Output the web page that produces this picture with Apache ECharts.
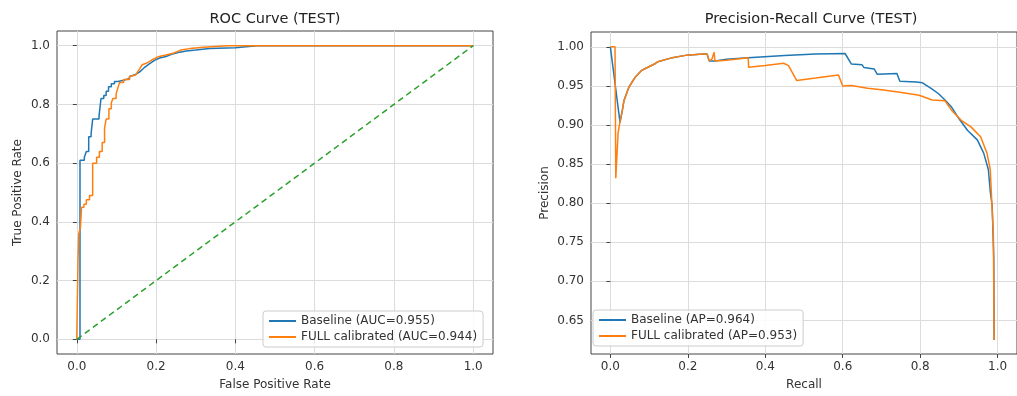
<!DOCTYPE html>
<html>
<head>
<meta charset="utf-8">
<title>ROC / PR (TEST)</title>
<script src="https://cdn.jsdelivr.net/npm/echarts@6/dist/echarts.min.js"></script>
<style>
  html, body { margin: 0; padding: 0; background: #fff; }
  #chart { width: 1017px; height: 396px; }
</style>
</head>
<body>
<div id="chart"></div>
<script>
// ROC curve points (fpr, tpr)
const rocBaseline = [
  [0, 0], [0.008, 0], [0.008, 0.61], [0.019, 0.61], [0.019, 0.62], [0.024, 0.62], [0.024, 0.64],
  [0.030, 0.64], [0.030, 0.69], [0.036, 0.69], [0.036, 0.70], [0.040, 0.70], [0.040, 0.75],
  [0.056, 0.75], [0.056, 0.76], [0.061, 0.76], [0.061, 0.82], [0.068, 0.82], [0.068, 0.83],
  [0.074, 0.83], [0.074, 0.845], [0.080, 0.845], [0.080, 0.86], [0.087, 0.86], [0.087, 0.87],
  [0.095, 0.87], [0.095, 0.878], [0.104, 0.878], [0.104, 0.882], [0.118, 0.882], [0.118, 0.888],
  [0.133, 0.888], [0.133, 0.895], [0.145, 0.9], [0.158, 0.91], [0.170, 0.925], [0.183, 0.938],
  [0.196, 0.95], [0.209, 0.958], [0.225, 0.963], [0.242, 0.972], [0.260, 0.978], [0.276, 0.982],
  [0.300, 0.985], [0.335, 0.99], [0.40, 0.993], [0.455, 1.0], [1.0, 1.0]
];
const rocFull = [
  [0, 0], [0, 0.02], [0.003, 0.02], [0.003, 0.27], [0.005, 0.27], [0.005, 0.36], [0.009, 0.36],
  [0.009, 0.38], [0.012, 0.38], [0.012, 0.45], [0.018, 0.45], [0.018, 0.46], [0.024, 0.46],
  [0.024, 0.475], [0.032, 0.475], [0.032, 0.49], [0.040, 0.49], [0.040, 0.60], [0.050, 0.60],
  [0.050, 0.62], [0.057, 0.62], [0.057, 0.64], [0.064, 0.64], [0.064, 0.67], [0.070, 0.67],
  [0.070, 0.72], [0.074, 0.72], [0.074, 0.75], [0.081, 0.75], [0.081, 0.785], [0.087, 0.785],
  [0.087, 0.805], [0.091, 0.805], [0.091, 0.82], [0.099, 0.82], [0.099, 0.835], [0.104, 0.835],
  [0.104, 0.858], [0.108, 0.858], [0.108, 0.875], [0.118, 0.875], [0.118, 0.885], [0.133, 0.885],
  [0.133, 0.895], [0.148, 0.9], [0.158, 0.92], [0.165, 0.935], [0.175, 0.94], [0.190, 0.952],
  [0.205, 0.962], [0.225, 0.968], [0.245, 0.975], [0.262, 0.985], [0.285, 0.99], [0.32, 0.995],
  [0.38, 1.0], [1.0, 1.0]
];
const rocChance = [[0, 0], [1, 1]];

// Precision-recall points (recall, precision)
const prBaseline = [
  [0, 1.0], [0.025, 0.903], [0.031, 0.919], [0.035, 0.931], [0.0475, 0.948], [0.056, 0.955],
  [0.064, 0.961], [0.081, 0.970], [0.089, 0.972], [0.114, 0.978], [0.1225, 0.981], [0.156, 0.9856],
  [0.1975, 0.9894], [0.239, 0.9907], [0.25, 0.9907], [0.255, 0.982], [0.27, 0.982], [0.30, 0.984],
  [0.356, 0.986], [0.45, 0.989], [0.53, 0.991], [0.606, 0.9915], [0.6225, 0.978], [0.65, 0.977],
  [0.655, 0.9735], [0.681, 0.9717], [0.689, 0.965], [0.74, 0.966], [0.7475, 0.956], [0.79, 0.955],
  [0.806, 0.954], [0.831, 0.946], [0.8475, 0.94], [0.864, 0.932], [0.881, 0.923], [0.8975, 0.910],
  [0.9225, 0.893], [0.9475, 0.881], [0.964, 0.864], [0.976, 0.843], [0.981, 0.815], [0.986, 0.796],
  [0.99, 0.73], [0.991, 0.625]
];
const prFull = [
  [0, 1.0], [0.012, 1.0], [0.014, 0.832], [0.02, 0.89], [0.025, 0.905], [0.031, 0.919], [0.035, 0.931],
  [0.0475, 0.948], [0.056, 0.955], [0.064, 0.961], [0.081, 0.970], [0.089, 0.972], [0.114, 0.978],
  [0.1225, 0.981], [0.156, 0.9856], [0.1975, 0.9894], [0.239, 0.9907], [0.25, 0.9907], [0.255, 0.982],
  [0.262, 0.984], [0.268, 0.993], [0.27, 0.982], [0.30, 0.983], [0.356, 0.986], [0.357, 0.974],
  [0.40, 0.976], [0.4475, 0.979], [0.46, 0.976], [0.481, 0.957], [0.53, 0.96], [0.589, 0.964],
  [0.60, 0.95], [0.6225, 0.9505], [0.664, 0.947], [0.70, 0.945], [0.7475, 0.942], [0.7975, 0.938],
  [0.831, 0.932], [0.864, 0.931], [0.8808, 0.919], [0.906, 0.906], [0.931, 0.8976], [0.956, 0.885],
  [0.9725, 0.864], [0.981, 0.843], [0.985, 0.80], [0.989, 0.758], [0.991, 0.625]
];

const unitTicks = [0, 0.2, 0.4, 0.6, 0.8, 1.0];
const precisionTicks = [0.65, 0.7, 0.75, 0.8, 0.85, 0.9, 0.95, 1.0];

const rocNames = ['Baseline (AUC=0.955)', 'FULL calibrated (AUC=0.944)'];
const prNames = ['Baseline (AP=0.964)', 'FULL calibrated (AP=0.953)'];
const titles = ['ROC Curve (TEST)', 'Precision-Recall Curve (TEST)'];

const FONT = 'DejaVu Sans, sans-serif';
const BLUE = '#1f77b4', ORANGE = '#ff7f0e', GREEN = '#2ca02c';

const chart = echarts.init(document.getElementById('chart'), null, { renderer: 'canvas' });

function axis(gridIndex, min, max, ticks, digits, name, nameGap) {
  return {
    type: 'value',
    gridIndex,
    min, max,
    name,
    nameLocation: 'middle',
    nameGap,
    nameTextStyle: { color: '#333', fontSize: 12, fontFamily: FONT },
    axisLine: { show: false },
    axisTick: { show: true, inside: false, length: 4, customValues: ticks, lineStyle: { color: '#444' } },
    axisLabel: {
      customValues: ticks,
      margin: 7,
      color: '#333', fontSize: 12, fontFamily: FONT,
      formatter: (v) => v.toFixed(digits)
    },
    splitLine: { show: true, lineStyle: { color: '#dcdcdc', width: 1 } }
  };
}

function legend(data, left, top) {
  return {
    data,
    orient: 'vertical',
    left, top,
    icon: 'rect',
    itemWidth: 27, itemHeight: 2,
    itemGap: 4,
    padding: [4, 6, 4, 6],
    backgroundColor: 'rgba(255,255,255,0.85)',
    borderColor: '#cccccc', borderWidth: 1, borderRadius: 3,
    selectedMode: false,
    textStyle: { color: '#333', fontSize: 12, fontFamily: FONT }
  };
}

function line(name, data, color, xi, extra) {
  return Object.assign({
    name, type: 'line', data,
    xAxisIndex: xi, yAxisIndex: xi,
    showSymbol: false, symbol: 'none',
    lineStyle: { color, width: 1.5 },
    itemStyle: { color },
    animation: false
  }, extra || {});
}

chart.setOption({
  animation: false,
  title: [
    { text: titles[0], left: 275, top: 12, textAlign: 'center', padding: 0,
      textStyle: { fontSize: 14.5, fontWeight: 'normal', color: '#222', fontFamily: FONT } },
    { text: titles[1], left: 811, top: 12, textAlign: 'center', padding: 0,
      textStyle: { fontSize: 14.5, fontWeight: 'normal', color: '#222', fontFamily: FONT } }
  ],
  grid: [
    { left: 57, top: 31, width: 436, height: 325, show: true, borderColor: '#444', borderWidth: 1, backgroundColor: 'transparent' },
    { left: 591, top: 32, width: 440, height: 324, show: true, borderColor: '#444', borderWidth: 1, backgroundColor: 'transparent' }
  ],
  xAxis: [
    axis(0, -0.05, 1.05, unitTicks, 1, 'False Positive Rate', 25),
    axis(1, -0.05, 1.05, unitTicks, 1, 'Recall', 25)
  ],
  yAxis: [
    axis(0, -0.05, 1.05, unitTicks, 1, 'True Positive Rate', 33),
    axis(1, 0.607, 1.019, precisionTicks, 2, 'Precision', 40)
  ],
  legend: [legend(rocNames, 263, 311), legend(prNames, 593, 310)],
  series: [
    line(rocNames[0], rocBaseline, BLUE, 0),
    line(rocNames[1], rocFull, ORANGE, 0),
    line('chance', rocChance, GREEN, 0, { lineStyle: { color: GREEN, width: 1.5, type: [6, 4] } }),
    line(prNames[0], prBaseline, BLUE, 1),
    line(prNames[1], prFull, ORANGE, 1)
  ]
});
</script>
</body>
</html>
